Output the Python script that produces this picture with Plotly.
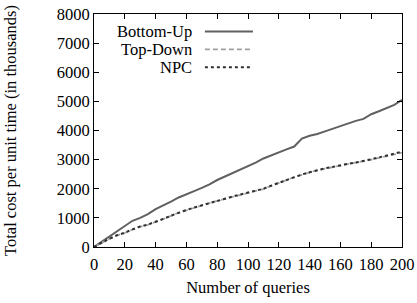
import plotly.graph_objects as go

queries = list(range(0, 201, 5))
bottom_up = [0, 180, 350, 530, 730, 900, 1000, 1130, 1300, 1420, 1560, 1700, 1820, 1920, 2030,
             2150, 2300, 2420, 2550, 2650, 2770, 2900, 3040, 3150, 3260, 3350, 3450, 3720, 3820,
             3880, 3970, 4060, 4150, 4250, 4330, 4400, 4560, 4660, 4780, 4880, 5050]
top_down = [0, 150, 280, 400, 480, 600, 700, 760, 850, 960, 1070, 1180, 1260, 1350, 1420,
            1510, 1580, 1650, 1730, 1790, 1850, 1920, 1990, 2100, 2200, 2310, 2400, 2480, 2560,
            2640, 2690, 2740, 2800, 2850, 2890, 2930, 3000, 3060, 3120, 3180, 3240]
npc = [0, 155, 285, 405, 490, 605, 705, 770, 860, 965, 1075, 1185, 1270, 1355, 1425,
       1515, 1585, 1655, 1735, 1795, 1855, 1925, 2000, 2105, 2205, 2315, 2405, 2490, 2565,
       2645, 2700, 2750, 2810, 2860, 2900, 2945, 3010, 3075, 3135, 3195, 3270]
series_names = ["Bottom-Up", "Top-Down", "NPC"]
x_ticks = list(range(0, 201, 20))
y_ticks = list(range(0, 8001, 1000))

styles = [dict(color="#606060", width=2, dash="solid"),
          dict(color="#a0a0a0", width=1.8, dash="5px,3px"),
          dict(color="#303030", width=2, dash="3px,3px")]

fig = go.Figure()
for name, ys, st in zip(series_names, [bottom_up, top_down, npc], styles):
    fig.add_trace(go.Scatter(x=queries, y=ys, mode="lines", name=name, line=st, showlegend=False))

font = dict(family="Liberation Serif", size=16.5, color="black")

# manual legend (text right-aligned, sample to the right)
leg_y = [0.925, 0.848, 0.771]
for name, st, yy in zip(series_names, styles, leg_y):
    fig.add_annotation(xref="paper", yref="paper", x=0.325, y=yy, text=name, showarrow=False,
                       xanchor="right", yanchor="middle", font=font)
    fig.add_shape(type="line", xref="paper", yref="paper", x0=0.36, x1=0.516, y0=yy, y1=yy,
                  line=st)

axis_common = dict(showline=True, linecolor="black", linewidth=1, mirror="allticks",
                   ticks="inside", ticklen=5, tickcolor="black", showgrid=False, zeroline=False,
                   tickfont=font, automargin=False, ticklabeloverflow="allow")
fig.update_xaxes(range=[0, 200], tickvals=x_ticks, ticklabelstandoff=2,
                 title=dict(text="Number of queries", font=font, standoff=8), **axis_common)
fig.update_yaxes(range=[0, 8000], tickvals=y_ticks,
                 title=dict(text="Total cost per unit time (in thousands)", font=font, standoff=35),
                 **axis_common)
fig.update_layout(width=417, height=303, margin=dict(l=94, r=15, t=14, b=56),
                  plot_bgcolor="white", paper_bgcolor="white", font=font)
fig.write_html("out.html", config={"displayModeBar": False},
               post_script="document.body.style.margin='0';")
